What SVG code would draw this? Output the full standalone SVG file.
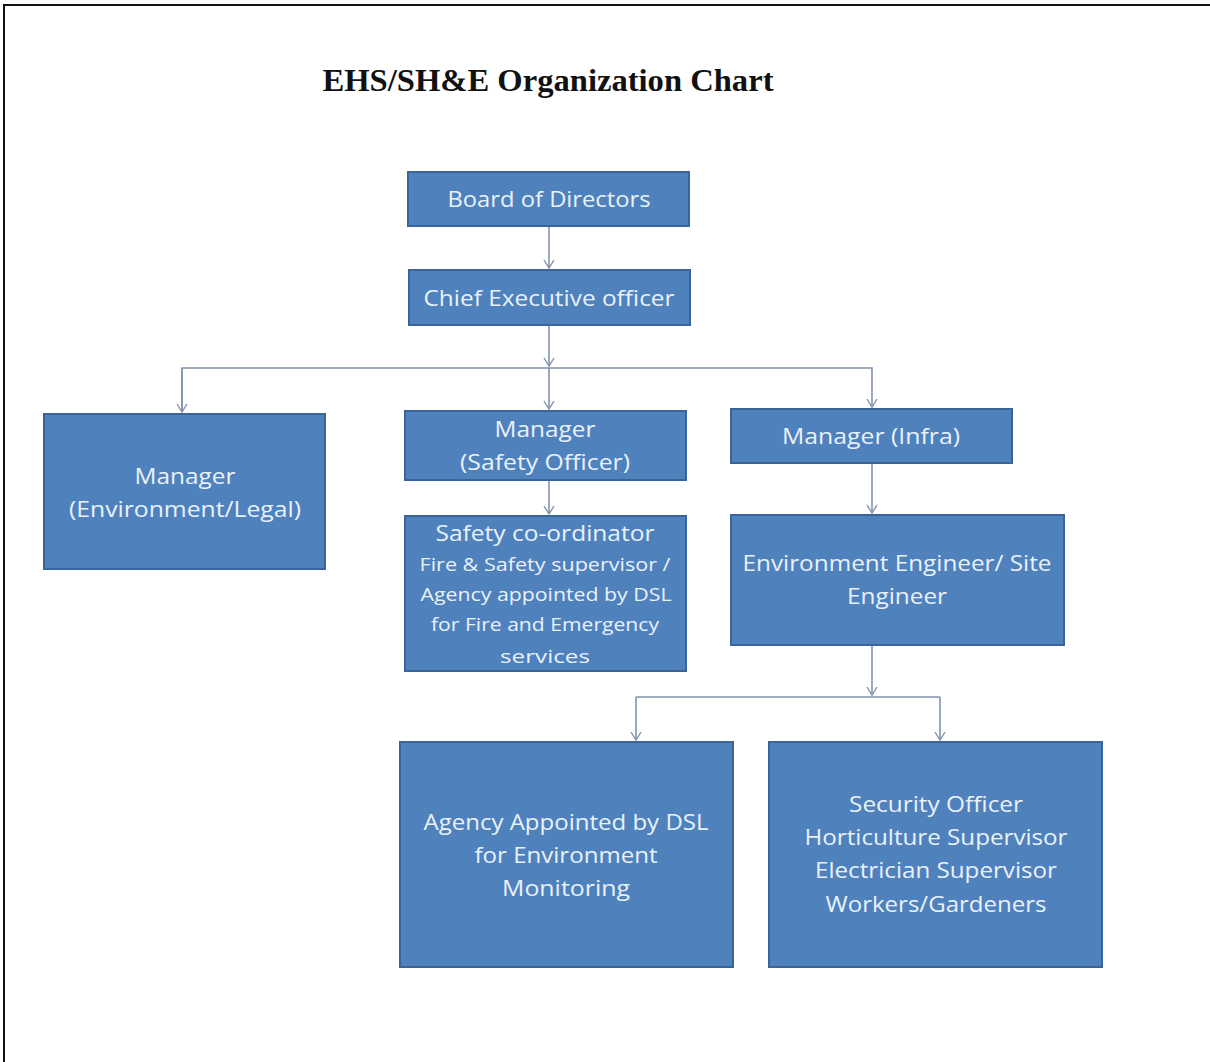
<svg xmlns="http://www.w3.org/2000/svg" width="1210" height="1062" viewBox="0 0 1210 1062">
<defs>
<marker id="arr" markerWidth="12" markerHeight="10" refX="6" refY="9" orient="auto-start-reverse" markerUnits="userSpaceOnUse" viewBox="0 0 12 10">
<path d="M1,1 L6,9 L11,1" fill="none" stroke="#8293ad" stroke-width="1.4"/>
</marker>
<marker id="arrd" markerWidth="12" markerHeight="10" refX="6" refY="9" markerUnits="userSpaceOnUse" viewBox="0 0 12 10">
<path d="M1,1 L6,9 L11,1" fill="none" stroke="#8293ad" stroke-width="1.4"/>
</marker>
</defs>
<style>
.box{fill:#4f81bd;stroke:#3a659a;stroke-width:2}
.t{font-family:"Open Sans","Liberation Sans",sans-serif;fill:#e9f1fb;text-anchor:middle}
.l{font-size:22px}
.s{font-size:19px}
.c{fill:none;stroke:#8293ad;stroke-width:1.6}
</style>
<rect x="0" y="0" width="1210" height="1062" fill="#ffffff"/>
<path d="M4,1062 L4,5 L1210,5" fill="none" stroke="#111" stroke-width="2"/>
<text x="548" y="91" font-family="'Liberation Serif',serif" font-weight="bold" font-size="31" text-anchor="middle" textLength="451" lengthAdjust="spacingAndGlyphs" fill="#111">EHS/SH&amp;E Organization Chart</text>

<g id="connectors">
<path class="c" d="M549,226 L549,268" marker-end="url(#arrd)"/>
<path class="c" d="M549,325 L549,366" marker-end="url(#arrd)"/>
<path class="c" d="M182,410 L182,368 L872,368 L872,407" marker-end="url(#arrd)"/>
<path class="c" d="M182,368 L182,412" marker-end="url(#arrd)"/>
<path class="c" d="M549,368 L549,409" marker-end="url(#arrd)"/>
<path class="c" d="M549,480 L549,514" marker-end="url(#arrd)"/>
<path class="c" d="M872,463 L872,513" marker-end="url(#arrd)"/>
<path class="c" d="M872,645 L872,695" marker-end="url(#arrd)"/>
<path class="c" d="M636,697 L940,697"/>
<path class="c" d="M636,697 L636,740" marker-end="url(#arrd)"/>
<path class="c" d="M940,697 L940,740" marker-end="url(#arrd)"/>
</g>

<g id="board">
<rect class="box" x="408" y="172" width="281" height="54"/>
<text class="t l" x="549" y="207" textLength="203" lengthAdjust="spacingAndGlyphs">Board of Directors</text>
</g>
<g id="ceo">
<rect class="box" x="409" y="270" width="281" height="55"/>
<text class="t l" x="549" y="306" textLength="251" lengthAdjust="spacingAndGlyphs">Chief Executive officer</text>
</g>
<g id="mgr-env">
<rect class="box" x="44" y="414" width="281" height="155"/>
<text class="t l" x="185" y="484" textLength="101" lengthAdjust="spacingAndGlyphs">Manager</text>
<text class="t l" x="185" y="517" textLength="232" lengthAdjust="spacingAndGlyphs">(Environment/Legal)</text>
</g>
<g id="mgr-safety">
<rect class="box" x="405" y="411" width="281" height="69"/>
<text class="t l" x="545" y="437" textLength="101" lengthAdjust="spacingAndGlyphs">Manager</text>
<text class="t l" x="545" y="470" textLength="170" lengthAdjust="spacingAndGlyphs">(Safety Officer)</text>
</g>
<g id="mgr-infra">
<rect class="box" x="731" y="409" width="281" height="54"/>
<text class="t l" x="871" y="444" textLength="178" lengthAdjust="spacingAndGlyphs">Manager (Infra)</text>
</g>
<g id="safety-coord">
<rect class="box" x="405" y="516" width="281" height="155"/>
<text class="t l" x="545" y="541" textLength="219" lengthAdjust="spacingAndGlyphs">Safety co-ordinator</text>
<text class="t s" x="545" y="571" textLength="251" lengthAdjust="spacingAndGlyphs">Fire &amp; Safety supervisor /</text>
<text class="t s" x="546" y="601" textLength="251" lengthAdjust="spacingAndGlyphs">Agency appointed by DSL</text>
<text class="t s" x="545" y="631" textLength="228" lengthAdjust="spacingAndGlyphs">for Fire and Emergency</text>
<text class="t s" x="545" y="663" textLength="90" lengthAdjust="spacingAndGlyphs">services</text>
</g>
<g id="env-eng">
<rect class="box" x="731" y="515" width="333" height="130"/>
<text class="t l" x="897" y="571" textLength="309" lengthAdjust="spacingAndGlyphs">Environment Engineer/ Site</text>
<text class="t l" x="897" y="604" textLength="100" lengthAdjust="spacingAndGlyphs">Engineer</text>
</g>
<g id="agency-env">
<rect class="box" x="400" y="742" width="333" height="225"/>
<text class="t l" x="566" y="830" textLength="285" lengthAdjust="spacingAndGlyphs">Agency Appointed by DSL</text>
<text class="t l" x="566" y="863" textLength="183" lengthAdjust="spacingAndGlyphs">for Environment</text>
<text class="t l" x="566" y="896" textLength="128" lengthAdjust="spacingAndGlyphs">Monitoring</text>
</g>
<g id="security">
<rect class="box" x="769" y="742" width="333" height="225"/>
<text class="t l" x="936" y="812" textLength="174" lengthAdjust="spacingAndGlyphs">Security Officer</text>
<text class="t l" x="936" y="845" textLength="263" lengthAdjust="spacingAndGlyphs">Horticulture Supervisor</text>
<text class="t l" x="936" y="878" textLength="242" lengthAdjust="spacingAndGlyphs">Electrician Supervisor</text>
<text class="t l" x="936" y="912" textLength="221" lengthAdjust="spacingAndGlyphs">Workers/Gardeners</text>
</g>
</svg>
